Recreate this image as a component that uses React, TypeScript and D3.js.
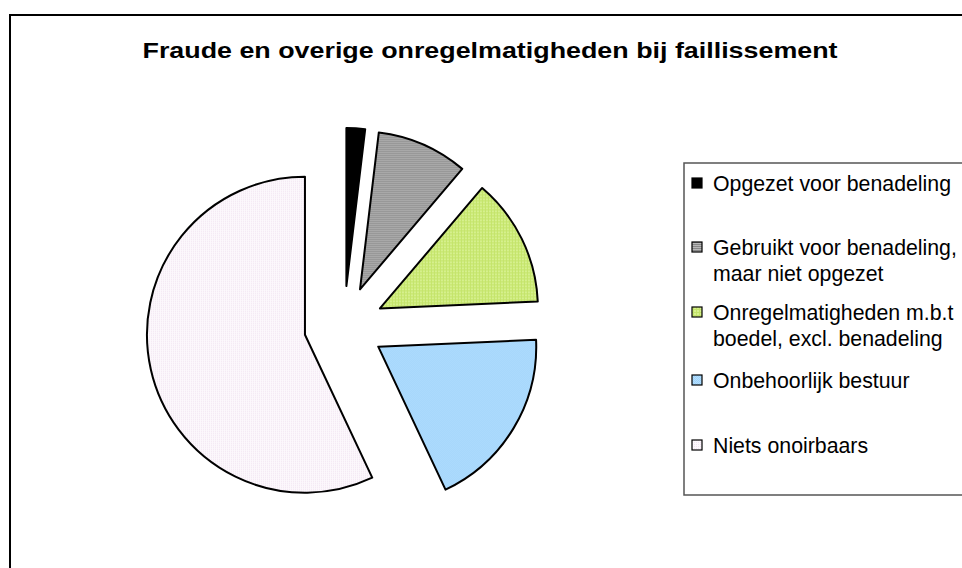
import React from 'react';
import * as d3 from 'd3';

const title = 'Fraude en overige onregelmatigheden bij faillissement';
const categories = [
  'Opgezet voor benadeling',
  'Gebruikt voor benadeling, maar niet opgezet',
  'Onregelmatigheden m.b.t boedel, excl. benadeling',
  'Onbehoorlijk bestuur',
  'Niets onoirbaars',
];
const legendLines = [
  ['Opgezet voor benadeling'],
  ['Gebruikt voor benadeling,', 'maar niet opgezet'],
  ['Onregelmatigheden m.b.t', 'boedel, excl. benadeling'],
  ['Onbehoorlijk bestuur'],
  ['Niets onoirbaars'],
];
const values = [1.9, 9.3, 13.1, 18.7, 57.0];
const fills = ['#000000', 'url(#pGrey)', 'url(#pGreen)', 'url(#pBlue)', 'url(#pPink)'];

const W = 962;
const H = 568;
const cx = 344;
const cy = 326;
const R = 158;
const explode = 40;

export default function App() {
  const pie = d3.pie<number>().sort(null).startAngle(0).endAngle(2 * Math.PI);
  const arcs = pie(values);
  const arc = d3.arc<d3.PieArcDatum<number>>().innerRadius(0).outerRadius(R);

  const legendY = d3.scaleOrdinal<number, number>()
    .domain(d3.range(categories.length))
    .range([191, 255, 320, 388, 453]);

  return (
    <svg width={W} height={H} style={{position: 'absolute', left: 0, top: 0, background: '#fff'}}
         fontFamily="'Liberation Sans', Arial, sans-serif">
      <defs>
        <pattern id="pGrey" width="4" height="2" patternUnits="userSpaceOnUse">
          <rect width="4" height="2" fill="#b8b8b8"/>
          <rect width="4" height="1" fill="#888888"/>
        </pattern>
        <pattern id="pGreen" width="3" height="3" patternUnits="userSpaceOnUse">
          <rect width="3" height="3" fill="#d6f08e"/>
          <rect width="3" height="1" fill="#c4e46a"/>
          <rect width="1" height="3" fill="#c4e46a"/>
        </pattern>
        <pattern id="pBlue" width="2" height="2" patternUnits="userSpaceOnUse">
          <rect width="2" height="2" fill="#b4e0ff"/>
          <rect width="1" height="1" fill="#9fd2fa"/>
          <rect x="1" y="1" width="1" height="1" fill="#9fd2fa"/>
        </pattern>
        <pattern id="pPink" width="2" height="2" patternUnits="userSpaceOnUse">
          <rect width="2" height="2" fill="#fcf8fc"/>
          <rect width="1" height="1" fill="#f2e4f2"/>
        </pattern>
      </defs>

      <rect x={10} y={15} width={1000} height={600} fill="#fff" stroke="#000" strokeWidth={2}/>

      <text x={490} y={58} textAnchor="middle" fontWeight="bold" fontSize={22}
            textLength={695} lengthAdjust="spacingAndGlyphs" fill="#000">{title}</text>

      <g>
        {arcs.map((a, i) => {
          const mid = (a.startAngle + a.endAngle) / 2;
          const dx = Math.sin(mid) * explode;
          const dy = -Math.cos(mid) * explode;
          return (
            <path key={categories[i]} d={arc(a) || ''} transform={`translate(${cx + dx},${cy + dy})`}
                  fill={fills[i]} stroke="#000" strokeWidth={2} strokeLinejoin="round"/>
          );
        })}
      </g>

      <rect x={684} y={163} width={300} height={332} fill="#fff" stroke="#555" strokeWidth={1.5}/>
      {legendLines.map((lines, i) => {
        const y = legendY(i);
        return (
          <g key={categories[i]}>
            <rect x={692} y={y - 13} width={10} height={10} fill={fills[i]} stroke="#000" strokeWidth={1.2}/>
            {lines.map((ln, j) => (
              <text key={ln} x={713} y={y + j * 26} fontSize={21.3} fill="#000">{ln}</text>
            ))}
          </g>
        );
      })}
    </svg>
  );
}
